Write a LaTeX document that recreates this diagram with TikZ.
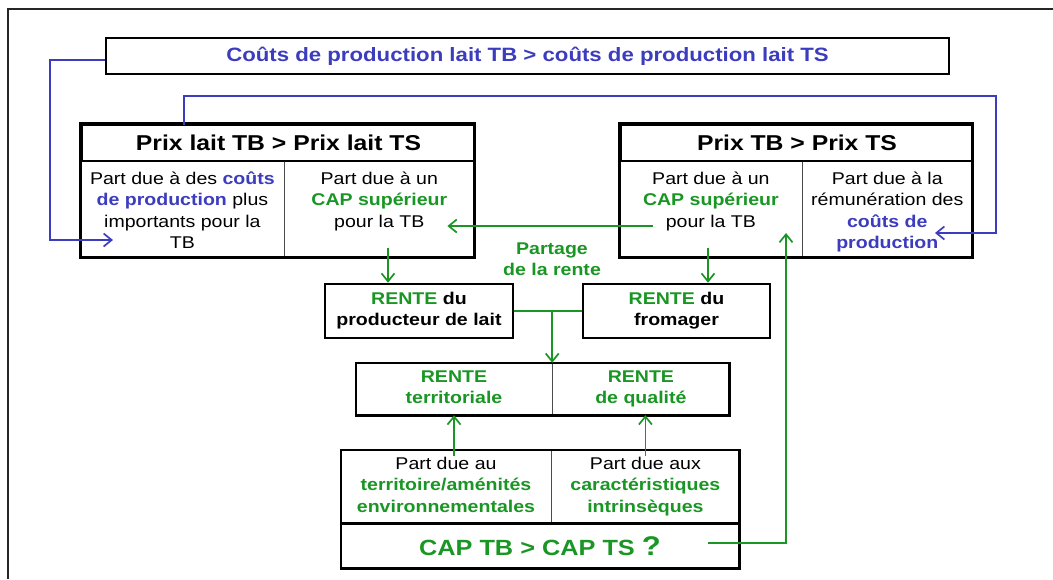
\documentclass[tikz,border=0pt]{standalone}
\usepackage{fontspec}
\setmainfont{Liberation Sans}[FakeStretch=1.15]
\usepackage{tikz}
\usetikzlibrary{calc, positioning, arrows.meta}
\definecolor{costblue}{RGB}{60,60,190}
\definecolor{rentgreen}{RGB}{25,150,35}
\newcommand{\blu}[1]{\textcolor{costblue}{\textbf{#1}}}
\newcommand{\grn}[1]{\textcolor{rentgreen}{\textbf{#1}}}
\tikzset{
    x=1pt, y=-1pt,% one unit is one pixel of the sketch, y going down
}

\begin{document}
\begin{tikzpicture}
    [every node/.style={align=center, inner sep=0pt, font=\fontsize{17}{21.5}\selectfont},
    head/.style={draw, line width=2.6pt, minimum height=36pt, font=\fontsize{21.5}{24}\selectfont\bfseries},
    cell/.style={anchor=north west, minimum height=95pt},
    rbox/.style={draw, line width=2.6pt, minimum height=54pt, font=\fontsize{17}{21}\selectfont\bfseries},
    rcell/.style={font=\fontsize{17}{21}\selectfont\bfseries, text=rentgreen},
    thickbox/.style={line width=2.6pt},
    divider/.style={draw=gray!60!black, line width=0.8pt},
    sheet/.style={line width=2pt, black!85},
    cost/.style={draw=costblue, line width=1.7pt, -{Straight Barb[length=8pt,width=13pt]}},
    share/.style={draw=rentgreen, line width=1.7pt, -{Straight Barb[length=8pt,width=13pt]}}]
    \useasboundingbox (0,0) rectangle (1053,579);
    \draw[sheet] (8,579) -- (8,9) -- (1053,9);

    \node (top) [draw, line width=1.8pt, minimum width=843pt, minimum height=36pt,
        font=\fontsize{19.3}{22}\selectfont\bfseries, text=costblue] at (527.5,56)
        {Coûts de production lait TB > coûts de production lait TS};

    % prix du lait
    \node (laitH) [head, minimum width=393pt] at (278.5,143) {Prix lait TB > Prix lait TS};
    \node (laitA) [cell, minimum width=203pt] at (laitH.south west) {};
    \node (laitB) [cell, minimum width=190pt] at (laitA.north east) {};
    \draw[divider] (laitA.north east) -- (laitA.south east);
    \draw[thickbox] (laitH.north west) rectangle (laitB.south east);
    \node (laitAt) [below=9pt of laitA.north] {Part due à des \blu{coûts}\\ \blu{de production} plus\\ importants pour la\\ TB};
    \node (laitBt) [below=9pt of laitB.north] {Part due à un\\ \grn{CAP supérieur}\\ pour la TB};

    % prix du fromage
    \node (prixH) [head, minimum width=352pt] at (797,143) {Prix TB > Prix TS};
    \node (prixA) [cell, minimum width=182pt] at (prixH.south west) {};
    \node (prixB) [cell, minimum width=170pt] at (prixA.north east) {};
    \draw[divider] (prixA.north east) -- (prixA.south east);
    \draw[thickbox] (prixH.north west) rectangle (prixB.south east);
    \node (prixAt) [below=9pt of prixA.north] {Part due à un\\ \grn{CAP supérieur}\\ pour la TB};
    \node (prixBt) [below=9pt of prixB.north] {Part due à la\\ rémunération des\\ \blu{coûts de}\\ \blu{production}};

    % rentes
    \node (prod) [rbox, minimum width=188pt] at (419,311) {\grn{RENTE} du\\ producteur de lait};
    \node (fromag) [rbox, minimum width=187pt] at (676.5,311) {\grn{RENTE} du\\ fromager};
    \node (partage) [rcell] at (552,259) {Partage\\ de la rente};

    \node (renteT) [rcell, minimum width=196pt, minimum height=52pt] at (454,389) {RENTE\\ territoriale\vphantom{q}};
    \node (renteQ) [rcell, minimum width=177pt, minimum height=52pt, right=0pt of renteT] {RENTE\\ de qualité};
    \draw[divider] (renteT.north east) -- (renteT.south east);
    \draw[thickbox] (renteT.north west) rectangle (renteQ.south east);

    % consentement a payer
    \node (capA) [minimum width=210pt, minimum height=73pt] at (446,486.5) {Part due au\\ \grn{territoire/aménités}\\ \grn{environnementales}\vphantom{q}};
    \node (capB) [minimum width=188pt, minimum height=73pt, right=0pt of capA] {Part due aux\\ \grn{caractéristiques}\\ \grn{intrinsèques}};
    \node (capC) [anchor=north west, minimum width=398pt, minimum height=45pt,
        font=\fontsize{22}{24}\selectfont\bfseries, text=rentgreen] at (capA.south west)
        {CAP TB > CAP TS {\fontsize{27}{27}\selectfont ?}};
    \draw[divider] (capA.north east) -- (capA.south east);
    \draw[thickbox] (capC.north west) -- (capC.north east);
    \draw[thickbox] (capA.north west) rectangle (capC.south east);

    % couts de production
    \coordinate (laitIn) at (113,240);
    \coordinate (laitTop) at (184,125);
    \coordinate (prixCost) at (935,233);
    \draw[cost] ([yshift=-4pt]top.west) -- ++(-55,0) |- (laitIn);
    \draw[cost] (laitTop) |- ++(812,-29) |- (prixCost);

    % partage de la rente
    \coordinate (shareR) at (653,226);
    \coordinate (laitOut) at (388,248);
    \coordinate (prixOut) at (708,248);
    \draw[share] (shareR) -- (laitBt.east |- shareR);
    \draw[share] (laitOut) -- (laitOut |- prod.north);
    \draw[share] (prixOut) -- (prixOut |- fromag.north);
    \draw[share, -] (prod.east) -- (fromag.west);
    \draw[share] (renteT.north east |- prod.east) -- (renteT.north east);
    \draw[share] ($(renteT.south |- capA.north)+(0,6)$) -- (renteT.south);
    \draw[share] ($(capB.north)+(0,6)$) -- (capB.north |- renteQ.south);

    \coordinate (capOut) at (708,543);
    \coordinate (prixIn) at (786,233);
    \draw[share] (capOut) -| (prixIn);
\end{tikzpicture}
\end{document}
